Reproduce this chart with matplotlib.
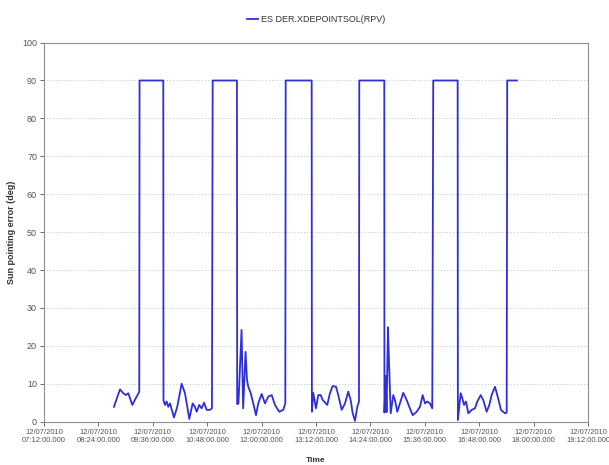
import matplotlib
matplotlib.use("Agg")
import matplotlib.pyplot as plt
import matplotlib.dates as mdates
import pandas as pd
import numpy as np

matplotlib.rcParams['font.family'] = ['Liberation Sans', 'DejaVu Sans']

# sun pointing error telemetry, 12/07/2010
times = [
    "08:44:36", "08:52:36", "08:56:57", "09:00:30", "09:03:36", "09:08:54", "09:14:42", "09:18:06",
    "09:18:30", "09:49:54",
    "09:50:10", "09:52:06", "09:54:24", "09:56:30", "09:58:48", "10:04:06", "10:08:24", "10:14:12",
    "10:18:36", "10:21:42", "10:24:18", "10:28:48", "10:31:48", "10:34:06", "10:37:30", "10:40:42",
    "10:43:48", "10:47:18", "10:51:42", "10:54:18",
    "10:55:18", "11:27:24",
    "11:27:42", "11:29:24", "11:33:30", "11:35:36", "11:38:48", "11:40:42", "11:42:24", "11:45:36",
    "11:49:00", "11:52:36", "11:55:36", "12:00:06", "12:04:30", "12:08:54", "12:13:24", "12:17:42",
    "12:23:24", "12:28:42", "12:31:24",
    "12:31:54", "13:06:18",
    "13:06:36", "13:08:24", "13:12:00", "13:15:00", "13:18:12", "13:20:54", "13:26:54", "13:30:30",
    "13:34:06", "13:38:30", "13:41:30", "13:46:00", "13:50:24", "13:54:42", "13:57:54", "14:00:36",
    "14:03:36", "14:06:42", "14:08:54",
    "14:09:18", "14:42:24",
    "14:42:36", "14:44:24", "14:45:24", "14:47:18", "14:48:36", "14:50:54", "14:54:18", "14:56:30",
    "14:59:36", "15:07:30", "15:12:00", "15:15:30", "15:20:00", "15:25:18", "15:29:36", "15:33:12",
    "15:36:18", "15:39:18", "15:42:54", "15:45:54",
    "15:47:12", "16:19:30",
    "16:19:48", "16:23:30", "16:25:54", "16:27:54", "16:30:30", "16:33:36", "16:38:06", "16:42:24",
    "16:45:30", "16:50:00", "16:53:24", "16:57:54", "17:01:24", "17:04:30", "17:08:54", "17:12:30",
    "17:16:48", "17:22:06", "17:24:24",
    "17:25:06", "17:38:00",
]
errors = [
    3.9, 8.5, 7.5, 7.0, 7.5, 4.4, 6.6, 7.9,
    90, 90,
    5.7, 4.4, 5.3, 3.9, 4.8, 1.1, 3.9, 10.0,
    7.5, 3.9, 0.7, 4.8, 3.9, 2.6, 4.4, 3.5,
    5.0, 3.1, 3.1, 3.5,
    90, 90,
    4.6, 4.8, 24.2, 3.5, 18.4, 11.0, 9.2, 7.5,
    4.8, 1.7, 4.8, 7.3, 4.8, 6.6, 7.0, 4.4,
    2.6, 3.1, 4.8,
    90, 90,
    2.6, 7.6, 3.5, 7.0, 7.0, 5.7, 4.4, 7.5,
    9.4, 9.2, 7.0, 3.1, 4.8, 7.9, 5.7, 2.2,
    0.2, 3.9, 5.3,
    90, 90,
    2.4, 12.0, 2.5, 24.9, 16.0, 2.2, 7.0, 5.7,
    2.6, 7.6, 5.7, 3.9, 1.7, 2.6, 3.9, 7.0,
    4.8, 5.3, 4.8, 3.5,
    90, 90,
    0.4, 7.5, 6.0, 4.4, 5.3, 2.2, 3.1, 3.5,
    5.3, 7.0, 5.7, 2.6, 4.4, 7.0, 9.2, 6.6,
    3.1, 2.2, 2.4,
    90, 90,
]
y_ticks = list(range(0, 101, 10))

t = pd.to_datetime(["2010-07-12 " + s for s in times])
t0 = pd.Timestamp("2010-07-12 07:12:00")
t1 = pd.Timestamp("2010-07-12 19:12:00")
x_ticks = pd.date_range(t0, t1, freq="72min")

fig = plt.figure(figsize=(6.09, 4.65), dpi=100)
ax = fig.add_axes([0.0722, 0.0933, 0.8933, 0.8151])

ax.plot(t, errors, color='#2f2fd8', linewidth=1.3, label='ES DER.XDEPOINTSOL(RPV)')

ax.set_xlim(t0, t1)
ax.set_ylim(0, 100)
ax.set_yticks(y_ticks)
ax.set_xticks(x_ticks)
ax.xaxis.set_major_formatter(mdates.DateFormatter('%d/%m/%Y\n%H:%M:%S.000'))
ax.tick_params(axis='both', labelsize=6.5, colors='#555555', length=3, width=0.6, pad=2)
ax.tick_params(axis='x', labelsize=5.5)
ax.yaxis.grid(True, linestyle=(0, (1, 2)), color='#c4c4c4', linewidth=0.7)
for s in ax.spines.values():
    s.set_color('#909090')
    s.set_linewidth(0.8)

ax.set_ylabel('Sun pointing error (deg)', fontsize=6.5, fontweight='bold', color='#333333', labelpad=4)
ax.set_xlabel('Time', fontsize=6, fontweight='bold', color='#333333', labelpad=10)

ax.legend(loc='upper center', bbox_to_anchor=(0.5, 1.095), frameon=False, fontsize=6.5,
          handlelength=1.2, handletextpad=0.3, labelcolor='#333333')

fig.savefig('out.png', dpi=100)
